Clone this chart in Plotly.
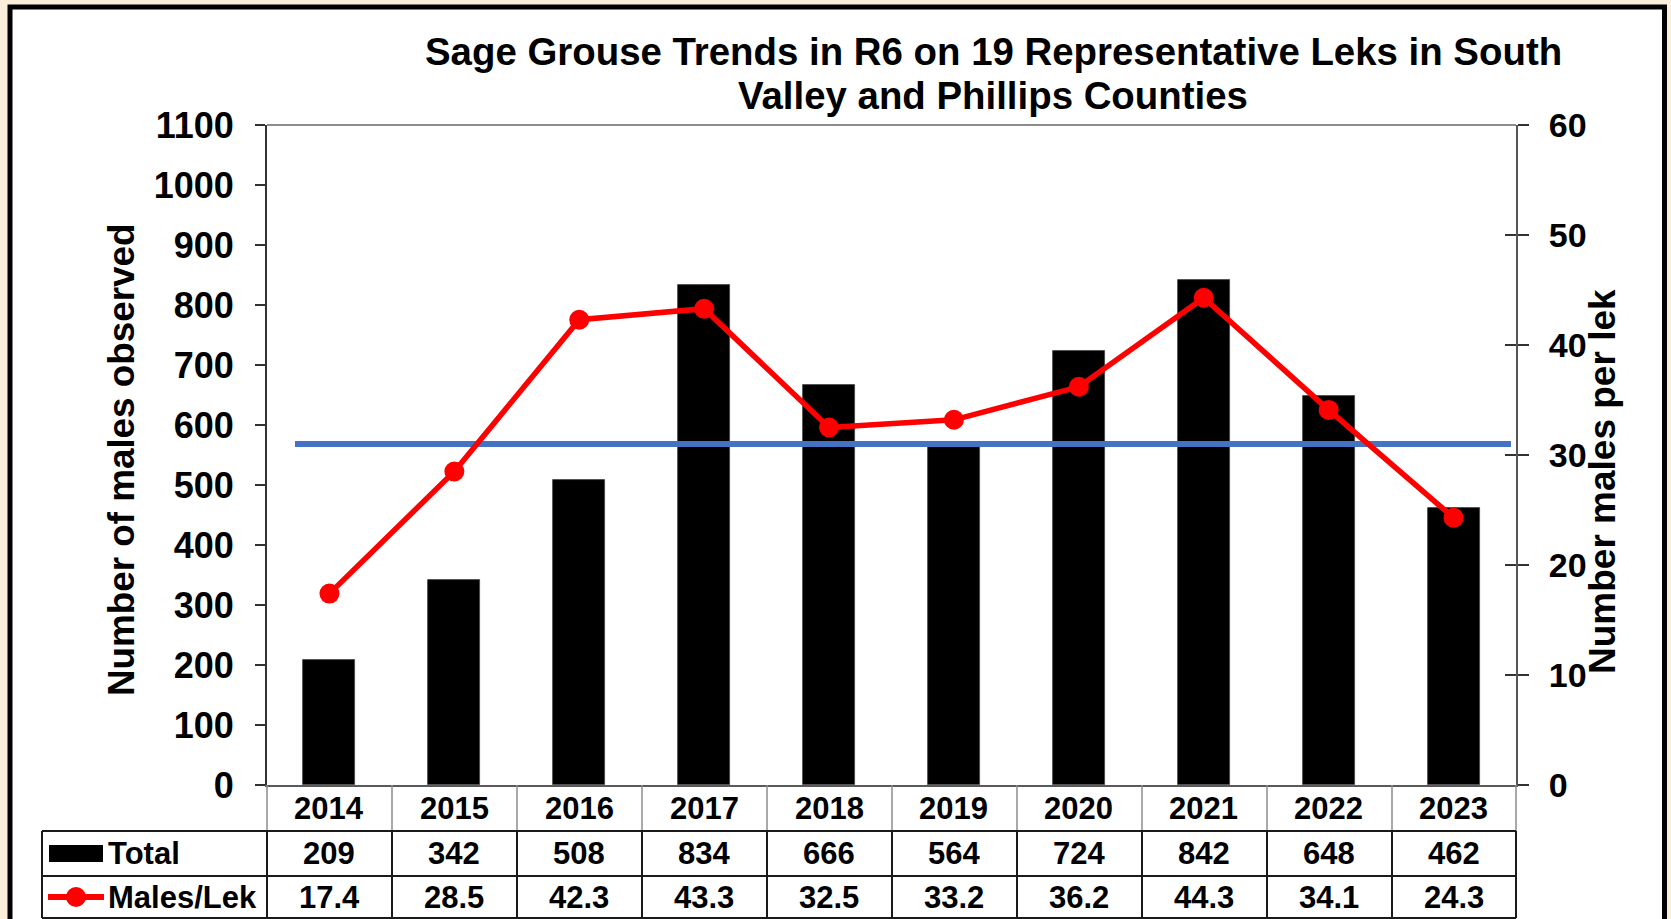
import plotly.graph_objects as go

# ---------------- data ----------------
years = ["2014", "2015", "2016", "2017", "2018", "2019", "2020", "2021", "2022", "2023"]
totals = [209, 342, 508, 834, 666, 564, 724, 842, 648, 462]
males_per_lek = [17.4, 28.5, 42.3, 43.3, 32.5, 33.2, 36.2, 44.3, 34.1, 24.3]
males_per_lek_labels = ["17.4", "28.5", "42.3", "43.3", "32.5", "33.2", "36.2", "44.3", "34.1", "24.3"]
average_males_per_lek = 31.0
left_ticks = list(range(0, 1101, 100))
right_ticks = list(range(0, 61, 10))

title_line1 = "Sage Grouse Trends in R6 on 19 Representative Leks in South"
title_line2 = "Valley and Phillips Counties"
left_title = "Number of males observed"
right_title = "Number males per lek"

# ---------------- geometry (pixels) ----------------
W, H = 1671, 919
PL, PR, PT, PB = 267, 1516, 125, 785
FONT = "Liberation Sans, Arial, sans-serif"
BG = "#FBEEDA"


def px2x(px):
    return (px - PL) / (PR - PL)


def px2y(py):
    return (PB - py) / (PB - PT)


xs = list(range(len(years)))

fig = go.Figure()
fig.add_trace(go.Bar(
    x=xs, y=totals, width=0.416, yaxis="y",
    marker=dict(color="#000000", line=dict(color="#444444", width=0.8)),
    showlegend=False, name="Total"))
fig.add_trace(go.Scatter(
    x=[-0.276, 9.46], y=[average_males_per_lek, average_males_per_lek],
    yaxis="y2", mode="lines", line=dict(color="#4472C4", width=6),
    showlegend=False, hoverinfo="skip"))
fig.add_trace(go.Scatter(
    x=xs, y=males_per_lek, yaxis="y2", mode="lines+markers",
    line=dict(color="#FF0000", width=5.5),
    marker=dict(color="#FF0000", size=20),
    showlegend=False, name="Males/Lek"))
fig.add_trace(go.Scatter(
    x=xs, y=males_per_lek, yaxis="y3", mode="none",
    showlegend=False, hoverinfo="skip"))

shapes = []
# outer frame (white card with black border)
shapes.append(dict(type="rect", xref="paper", yref="paper",
                   x0=px2x(10), x1=px2x(1664.5), y0=px2y(935), y1=px2y(7),
                   line=dict(color="#000000", width=5), fillcolor="#FFFFFF",
                   layer="below"))
# plot area top border
shapes.append(dict(type="line", xref="paper", yref="paper",
                   x0=0, x1=1, y0=1, y1=1,
                   line=dict(color="#8C8C8C", width=2)))

# table lines
GRAY = "#8C8C8C"
DARK = "#1A1A1A"
for i in range(1, len(years)):
    xp = PL + 125 * i
    shapes.append(dict(type="line", xref="paper", yref="paper",
                       x0=px2x(xp), x1=px2x(xp), y0=px2y(785), y1=px2y(831),
                       line=dict(color=GRAY, width=1.5)))
    shapes.append(dict(type="line", xref="paper", yref="paper",
                       x0=px2x(xp), x1=px2x(xp), y0=px2y(831), y1=px2y(918),
                       line=dict(color=DARK, width=2)))
for xp in (PL, PR):
    shapes.append(dict(type="line", xref="paper", yref="paper",
                       x0=px2x(xp), x1=px2x(xp), y0=px2y(785), y1=px2y(831),
                       line=dict(color=GRAY, width=1.5)))
    shapes.append(dict(type="line", xref="paper", yref="paper",
                       x0=px2x(xp), x1=px2x(xp), y0=px2y(831), y1=px2y(918),
                       line=dict(color=DARK, width=2)))
shapes.append(dict(type="line", xref="paper", yref="paper",
                   x0=px2x(42), x1=px2x(42), y0=px2y(831), y1=px2y(918),
                   line=dict(color=DARK, width=2)))
for yp in (831, 876, 918):
    shapes.append(dict(type="line", xref="paper", yref="paper",
                       x0=px2x(42), x1=px2x(PR), y0=px2y(yp), y1=px2y(yp),
                       line=dict(color=DARK, width=2)))

# legend keys inside the table
shapes.append(dict(type="rect", xref="paper", yref="paper",
                   x0=px2x(49), x1=px2x(103), y0=px2y(862), y1=px2y(845),
                   fillcolor="#000000", line=dict(width=0)))
shapes.append(dict(type="line", xref="paper", yref="paper",
                   x0=px2x(48), x1=px2x(104), y0=px2y(897), y1=px2y(897),
                   line=dict(color="#FF0000", width=6)))
shapes.append(dict(type="circle", xref="paper", yref="paper",
                   x0=px2x(66), x1=px2x(86), y0=px2y(907), y1=px2y(887),
                   fillcolor="#FF0000", line=dict(width=0)))

annotations = []
bold = dict(family=FONT, color="#000000", weight="bold")


def ann(text, x, y, size, xref="paper", xanchor="center", angle=0):
    return dict(text=text, xref=xref, yref="paper", x=x, y=y,
                showarrow=False, xanchor=xanchor, yanchor="middle",
                textangle=angle, font=dict(size=size, **bold))


annotations.append(ann(title_line1, px2x(993), px2y(51), 38.4))
annotations.append(ann(title_line2, px2x(993), px2y(95), 38.4))
annotations.append(ann(left_title, px2x(121), px2y(460), 36.8, angle=-90))
annotations.append(ann(right_title, px2x(1602), px2y(482), 37, angle=-90))
for i, yr in enumerate(years):
    annotations.append(ann(yr, i, px2y(808), 31, xref="x"))
    annotations.append(ann(str(totals[i]), i, px2y(853), 31, xref="x"))
    annotations.append(ann(males_per_lek_labels[i], i, px2y(897), 31, xref="x"))
annotations.append(ann("Total", px2x(106), px2y(853), 31, xanchor="left"))
annotations.append(ann("Males/Lek", px2x(106), px2y(897), 31, xanchor="left"))

fig.update_layout(
    width=W, height=H,
    margin=dict(l=PL, r=W - PR, t=PT, b=H - PB, pad=0),
    paper_bgcolor=BG,
    plot_bgcolor="rgba(0,0,0,0)",
    showlegend=False,
    bargap=0,
    xaxis=dict(range=[-0.5, 9.5], showticklabels=False, ticks="",
               showgrid=False, zeroline=False, showline=True,
               linecolor="#5A5A5A", linewidth=2, fixedrange=True),
    yaxis=dict(range=[0, 1100], tickvals=left_ticks, ticks="outside",
               ticklen=10, tickwidth=2, tickcolor="#333333",
               showline=True, linecolor="#333333", linewidth=2,
               showgrid=False, zeroline=False,
               tickfont=dict(size=36, **bold), ticklabelstandoff=14),
    yaxis2=dict(range=[0, 60], tickvals=right_ticks, overlaying="y",
                side="right", ticks="outside", ticklen=11, tickwidth=2,
                tickcolor="#333333", showline=True, linecolor="#555555",
                linewidth=2, showgrid=False, zeroline=False,
                tickfont=dict(size=34, **bold), ticklabelstandoff=13),
    yaxis3=dict(range=[0, 60], tickvals=right_ticks, overlaying="y",
                side="right", ticks="inside", ticklen=11, tickwidth=2,
                tickcolor="#333333", showticklabels=False, showline=False,
                showgrid=False, zeroline=False),
    shapes=shapes,
    annotations=annotations,
)

fig.write_html(
    "out.html",
    config={"displayModeBar": False},
    post_script=("document.body.style.margin='0';"
                 "document.body.style.background='" + BG + "';"
                 "document.body.style.overflow='hidden';"),
)
